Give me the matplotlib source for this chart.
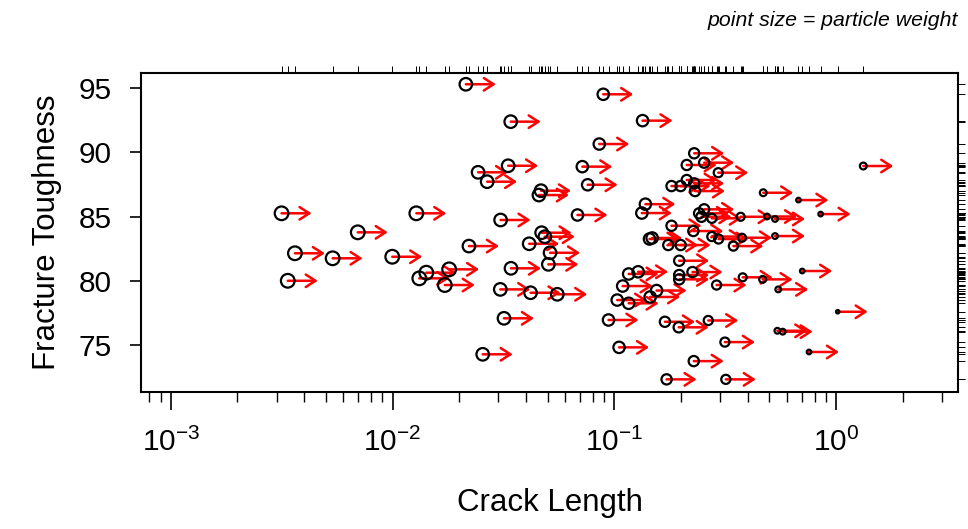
import matplotlib
matplotlib.use('Agg')
import matplotlib.pyplot as plt
from matplotlib.ticker import LogLocator, LogFormatterMathtext, NullFormatter

plt.rcParams['font.family'] = ['Liberation Sans', 'DejaVu Sans']
plt.rcParams['mathtext.fontset'] = 'custom'
plt.rcParams['mathtext.rm'] = 'Liberation Sans'
plt.rcParams['mathtext.it'] = 'Liberation Sans:italic'

# crack length, fracture toughness, particle weight (marker diameter, px)
crack = [0.00316, 0.00337, 0.00363, 0.00537, 0.00697, 0.00997, 0.0128, 0.0132, 0.0142, 0.0172,
         0.0180, 0.0214, 0.0221, 0.0243, 0.0255, 0.0267, 0.0307, 0.0306, 0.0318, 0.0332,
         0.0341, 0.0342, 0.0413, 0.0419, 0.0457, 0.0467, 0.0470, 0.0486, 0.0504, 0.0513,
         0.0553, 0.0682, 0.0717, 0.0758, 0.0855, 0.0891, 0.0941, 0.103, 0.105, 0.109,
         0.116, 0.116, 0.128, 0.134, 0.133, 0.138, 0.144, 0.148, 0.145, 0.155,
         0.169, 0.172, 0.175, 0.181, 0.181, 0.199, 0.199, 0.196, 0.196, 0.196,
         0.195, 0.212, 0.212, 0.225, 0.227, 0.228, 0.229, 0.229, 0.231, 0.241,
         0.247, 0.254, 0.254, 0.265, 0.275, 0.275, 0.289, 0.294, 0.295, 0.315,
         0.318, 0.344, 0.371, 0.376, 0.379, 0.466, 0.469, 0.488, 0.530, 0.530,
         0.543, 0.548, 0.574, 0.676, 0.703, 0.754, 0.851, 1.016, 1.325]
tough = [85.25, 80.0, 82.14, 81.75, 83.77, 81.87, 85.25, 80.19, 80.63, 79.67,
         80.89, 95.29, 82.70, 88.44, 74.28, 87.71, 84.73, 79.33, 77.08, 88.95,
         92.38, 80.97, 82.88, 79.07, 86.67, 87.01, 83.74, 83.43, 81.28, 82.18,
         78.95, 85.12, 88.88, 87.47, 90.64, 94.51, 76.95, 78.50, 74.82, 79.59,
         80.53, 78.25, 80.70, 92.46, 85.27, 85.96, 83.25, 83.33, 78.74, 79.24,
         76.81, 72.33, 82.78, 84.28, 87.37, 87.37, 82.78, 81.56, 80.45, 80.11,
         76.38, 89.01, 87.84, 80.68, 83.87, 73.75, 89.92, 87.58, 86.98, 85.25,
         84.98, 85.56, 89.19, 76.91, 84.86, 83.44, 79.67, 88.41, 83.25, 75.23,
         72.33, 82.70, 84.98, 83.35, 80.27, 80.11, 86.85, 85.0, 84.81, 83.48,
         76.11, 79.33, 76.04, 86.28, 80.76, 74.46, 85.19, 77.59, 88.93]
weight = [12, 12, 12, 12, 12, 12, 12, 12, 12, 12,
          12, 11, 11, 11, 11, 11, 11, 11, 11, 11,
          11, 11, 11, 11, 11, 11, 11, 11, 11, 11,
          11, 10, 10, 10, 10, 10, 10, 10, 10, 10,
          10, 10, 10, 10, 10, 10, 10, 10, 10, 10,
          9, 9, 9, 9, 9, 9, 9, 9, 9, 9,
          9, 9, 9, 9, 9, 9, 9, 9, 9, 9,
          9, 9, 9, 8, 8, 8, 8, 8, 8, 8,
          8, 8, 7, 7, 7, 6, 6, 5, 5, 5,
          5, 5, 5, 4, 4, 4, 4, 3, 6]

step = 10 ** (30 / 221.8)  # arrow length: ~30 px along the log axis

fig = plt.figure(figsize=(9.68, 5.29), dpi=100)
ax = fig.add_axes([141 / 968, 1 - 391.7 / 529, (958.3 - 141) / 968, (391.7 - 72.7) / 529])
ax.set_xscale('log')
ax.set_xlim(10 ** -3.134, 10 ** 0.5505)
ax.set_ylim(71.37, 96.19)

for x, y in zip(crack, tough):
    ax.annotate('', xy=(x * step, y), xytext=(x, y),
                arrowprops=dict(arrowstyle='->,head_length=0.7,head_width=0.45',
                                color='red', lw=1.8, shrinkA=0, shrinkB=0),
                zorder=2)
ax.scatter(crack, tough, s=[(w * 0.82) ** 2 for w in weight], facecolors='none',
           edgecolors='black', linewidths=1.6, zorder=3)

# rugs on top and right
ax.vlines(crack, 1, 1 + 7 / 319, transform=ax.get_xaxis_transform(), clip_on=False,
          color='black', lw=0.7)
ax.hlines(tough, 1, 1 + 7 / 817, transform=ax.get_yaxis_transform(), clip_on=False,
          color='black', lw=0.7)

for s in ax.spines.values():
    s.set_linewidth(1.5)
ax.xaxis.set_major_locator(LogLocator(base=10, numticks=10))
ax.xaxis.set_major_formatter(LogFormatterMathtext())
ax.xaxis.set_minor_locator(LogLocator(base=10, subs=range(2, 10), numticks=20))
ax.xaxis.set_minor_formatter(NullFormatter())
ax.set_yticks([75, 80, 85, 90, 95])
ax.tick_params(axis='x', which='major', length=13, width=1.2, labelsize=21.5, pad=13)
ax.tick_params(axis='x', which='minor', length=7, width=1.0)
ax.tick_params(axis='y', which='major', length=8, width=1.2, labelsize=21.5, pad=13)

ax.set_xlabel('Crack Length', fontsize=22.5, labelpad=22)
ax.set_ylabel('Fracture Toughness', fontsize=22.5, labelpad=12)
fig.text(958 / 968, 1 - 20 / 529, 'point size = particle weight', ha='right', va='center',
         style='italic', fontsize=15.3)

fig.savefig('out.png', dpi=100)
